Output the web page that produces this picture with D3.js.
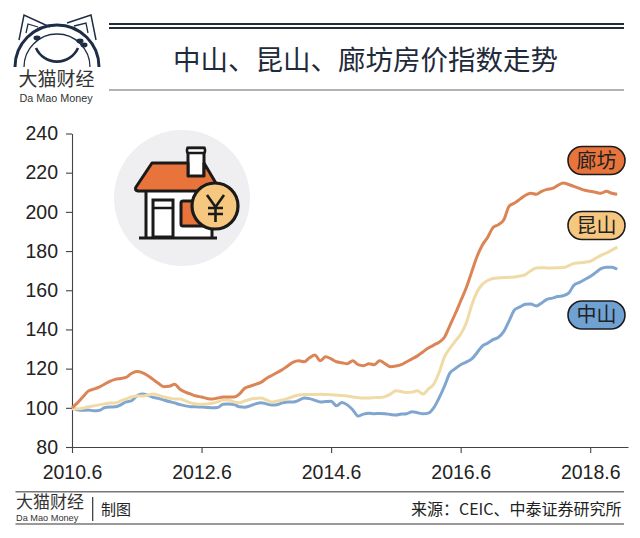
<!DOCTYPE html>
<html>
<head>
<meta charset="utf-8">
<script src="https://cdn.jsdelivr.net/npm/d3@7"></script>
<style>
  html, body { margin: 0; padding: 0; background: #fff; }
  svg { display: block; }
  .cjk { font-family: "Noto Sans CJK SC", sans-serif; }
  .lat { font-family: "Liberation Sans", Arimo, sans-serif; }
</style>
</head>
<body>
<div id="viz"></div>
<script>
// index = months since 2010.6
const langfang = [100,102.5,105.5,108.5,109.5,110.5,112,113.5,114.5,115,115.5,117.5,118.5,118,116.5,114.5,112.5,110.8,111,112,
  109.5,108,107,106,105.5,104.8,104.5,105,105.5,105.5,105.5,107,110,111,112,113,115,116.5,118,119.5,
  121.5,123.3,124,123.5,125.5,126.9,124,126,125,123.5,123,122.5,124,122,121.5,122.5,122,124,122.5,121,
  121.3,122,123.5,125,126.5,128.5,130.5,132,133.5,136,142,148,154.5,161,169,177,183,187,192,193.5,
  196,203,204.5,206.5,208.5,209.5,209,210.5,211.5,212,213.5,214.7,214,213,212,211,210.5,210,209.5,210.5,209.5,209];
const kunshan = [99.5,99.5,99.8,100.5,101,101.5,102,102.5,102.5,103.5,104.5,105.5,106,106,106.5,107,106.5,105.5,105,104.5,
  104.5,103.5,102.5,102,101.8,102,102.3,103,104,104,103,102.6,103.5,104.4,104.8,105,104,103,103.5,104,
  104.8,105.8,106.5,106.8,106.8,106.8,106.9,106.8,106.7,106.5,106.3,106,105.5,105.2,105,105,105.2,105.3,105.7,107,
  108.7,108.3,107.8,108,108.7,107,109.5,112,118,126,130.3,134,137.5,143,152,159,163,165,166,166.3,
  166.5,166.6,166.8,167.3,168,170,171.4,171.5,171.4,171.4,171.5,171.6,172.5,173.7,174,174.3,174.8,176.3,177.8,179,180.5,182];
const zhongshan = [100,99,98.7,98.9,98.5,98.6,100,100.4,100.5,101.5,103,103.5,106,107,106.5,105.3,104.8,104,103.2,102.5,
  101.6,101,100.6,100.5,100.4,100.2,100,100.2,101.8,101.9,101.7,100.5,100.3,101,102,102.6,102,101.4,101.6,102.5,
  103,103,103.8,105,104.7,103.8,103,103.2,103.4,101,102.7,101.5,99,95.8,96.8,97.2,97,97.1,97,96.6,
  96.3,96.8,97,98,97.5,97,97.3,100,105,111,117.7,120,122,123.3,124.8,128,131.5,133,134.8,136,
  139,144.5,150,151.5,152.8,153,152,153.5,155.4,156,156.8,157.2,158.5,162.6,164,165.5,167,169,171,171.8,171.8,170.7];

const yTicks = [80,100,120,140,160,180,200,220,240];
const xTicks = [0,24,48,72,96];
const xLabels = ["2010.6","2012.6","2014.6","2016.6","2018.6"];

const names = ["廊坊","昆山","中山"];
const pillColors = ["#E8743B","#F6C87F","#6FA1D3"];
const lineColors = ["#DB8557","#F0DBA6","#80A6CF"];
const seriesValues = [langfang, kunshan, zhongshan];
const drawOrder = [2,1,0];

const width = 640, height = 538;
const ink = "#222", navy = "#1e2d46";

const svg = d3.select("#viz").append("svg")
  .attr("width", width).attr("height", height)
  .attr("viewBox", `0 0 ${width} ${height}`);

const x = d3.scaleLinear().domain([0,103]).range([72,628]);
const y = d3.scaleLinear().domain([80,240]).range([447,133.5]);

// icon sits behind the chart
drawIcon(svg.append("g"));

// axes
const gx = svg.append("g").attr("transform", "translate(0,447)")
  .call(d3.axisBottom(x).tickValues(xTicks).tickSize(6).tickSizeOuter(0)
    .tickFormat((d,i) => xLabels[i]));
const gy = svg.append("g").attr("transform", "translate(72,0)")
  .call(d3.axisLeft(y).tickValues(yTicks).tickSize(6).tickSizeOuter(0));
[gx,gy].forEach(g => {
  g.selectAll("path,line").attr("stroke", "#444").attr("stroke-width", 1.1);
  g.selectAll("text").attr("class","lat").attr("font-size",19.5).attr("fill",ink);
});
gx.selectAll("text").attr("dy", 0).attr("y", 32);
gy.selectAll("text").attr("x", -14);

// lines
const line = d3.line().x((d,i) => x(i)).y(d => y(d)).curve(d3.curveMonotoneX);
svg.append("g").selectAll("path").data(drawOrder).join("path")
  .attr("d", k => line(seriesValues[k]))
  .attr("fill","none")
  .attr("stroke", k => lineColors[k])
  .attr("stroke-width", 3)
  .attr("stroke-linejoin","round");

// pills
const pillY = [160.5,225.5,315];
const pills = svg.append("g").selectAll("g").data(names).join("g")
  .attr("transform", (d,i) => `translate(596.5,${pillY[i]})`);
pills.append("rect").attr("x",-28.5).attr("y",-14).attr("width",57).attr("height",28).attr("rx",14)
  .attr("fill",(d,i) => pillColors[i]).attr("stroke","#1c1c1c").attr("stroke-width",1.6);
pills.append("text").attr("class","cjk").attr("text-anchor","middle").attr("dy","0.36em")
  .attr("font-size",20).attr("fill","#222").text(d => d);

// header
svg.append("g").selectAll("line").data([24,28,90]).join("line")
  .attr("x1",109).attr("x2",624).attr("y1",d => d).attr("y2",d => d)
  .attr("stroke",(d,i) => i == 2 ? "#666" : "#222c38")
  .attr("stroke-width",(d,i) => i == 2 ? 1.2 : 1.8);
svg.append("text").attr("class","cjk").attr("x",365.5).attr("y",60)
  .attr("text-anchor","middle").attr("dy","0.36em").attr("font-size",27.5).attr("fill","#1f2a3a")
  .text("中山、昆山、廊坊房价指数走势");

drawLogo(svg.append("g"));

// footer
svg.append("g").selectAll("line").data([491.7,524]).join("line")
  .attr("x1",15.5).attr("x2",624).attr("y1",d => d).attr("y2",d => d)
  .attr("stroke","#777").attr("stroke-width",1.6);
svg.append("text").attr("class","cjk").attr("x",16).attr("y",507.5).attr("font-size",17).attr("fill","#333").text("大猫财经");
svg.append("text").attr("class","lat").attr("x",16).attr("y",521).attr("font-size",9.2).attr("fill","#333").text("Da Mao Money");
svg.append("line").attr("x1",92.7).attr("x2",92.7).attr("y1",497).attr("y2",521).attr("stroke","#333").attr("stroke-width",1.2);
svg.append("text").attr("class","cjk").attr("x",101).attr("y",515).attr("font-size",15).attr("fill","#222").text("制图");
svg.append("text").attr("class","cjk").attr("x",621.5).attr("y",515).attr("text-anchor","end").attr("font-size",16).attr("fill","#222").text("来源：CEIC、中泰证券研究所");

function drawIcon(g) {
  g.append("circle").attr("cx",182).attr("cy",198).attr("r",68).attr("fill","#EFEEF0");
  const k = "#1a1a1a";
  g.append("rect").attr("x",146).attr("y",190).attr("width",66).attr("height",47).attr("fill","#fff");
  g.append("rect").attr("x",188).attr("y",148).attr("width",16).attr("height",30).attr("fill","#fff").attr("stroke",k).attr("stroke-width",3);
  g.append("rect").attr("x",187).attr("y",148).attr("width",18).attr("height",5).attr("rx",2).attr("fill","#fff").attr("stroke",k).attr("stroke-width",2.5);
  g.append("path").attr("d","M152 163H188V176H204V163L220 190Q222 191 218 191H138Q134 190 136 187Z")
    .attr("fill","#E8743B").attr("stroke",k).attr("stroke-width",3).attr("stroke-linejoin","round");
  g.append("path").attr("d","M146 191V237M212 200V237").attr("stroke",k).attr("stroke-width",3).attr("fill","none");
  g.append("rect").attr("x",153).attr("y",200).attr("width",20).attr("height",37).attr("fill","#fff").attr("stroke",k).attr("stroke-width",3);
  g.append("path").attr("d","M153 208H173").attr("stroke",k).attr("stroke-width",2.5);
  g.append("rect").attr("x",181).attr("y",201).attr("width",24).attr("height",25).attr("rx",2).attr("fill","#E8743B").attr("stroke",k).attr("stroke-width",3);
  g.append("path").attr("d","M139 238H217").attr("stroke",k).attr("stroke-width",3.2);
  g.append("circle").attr("cx",215).attr("cy",206).attr("r",23).attr("fill","#F6C87F").attr("stroke",k).attr("stroke-width",3.2);
  g.append("path").attr("d","M207 195L215.5 207L224 195M215.5 207V222M208 208H223M208 214H223")
    .attr("stroke",k).attr("stroke-width",2.6).attr("fill","none");
}

function drawLogo(g) {
  const s = (d,w) => g.append("path").attr("d",d).attr("fill","none").attr("stroke",navy).attr("stroke-width",w);
  s("M15 67A42 42 0 0 1 99 67",3);
  s("M24 67A33 33 0 0 1 90 67",1.3);
  s("M19 40L24 15L50 27",1.5);
  s("M67 23L91 15L96 40",1.5);
  s("M26 33L28 24L38 27",1.3);
  s("M74 26L86 23L88 33",1.3);
  s("M36 48A23 23 0 0 0 78 48",2.6);
  g.append("ellipse").attr("cx",37).attr("cy",38).attr("rx",3.5).attr("ry",2.4).attr("fill",navy);
  g.append("ellipse").attr("cx",80).attr("cy",41).attr("rx",3.5).attr("ry",2.4).attr("fill",navy);
  g.append("ellipse").attr("cx",84).attr("cy",45).attr("rx",3.5).attr("ry",2.4).attr("fill",navy);
  g.append("text").attr("class","cjk").attr("x",56.5).attr("y",86).attr("text-anchor","middle").attr("font-size",19).attr("fill","#333").text("大猫财经");
  g.append("text").attr("class","lat").attr("x",56).attr("y",101.5).attr("text-anchor","middle").attr("font-size",10.8).attr("fill","#333").text("Da Mao Money");
}
</script>
</body>
</html>
